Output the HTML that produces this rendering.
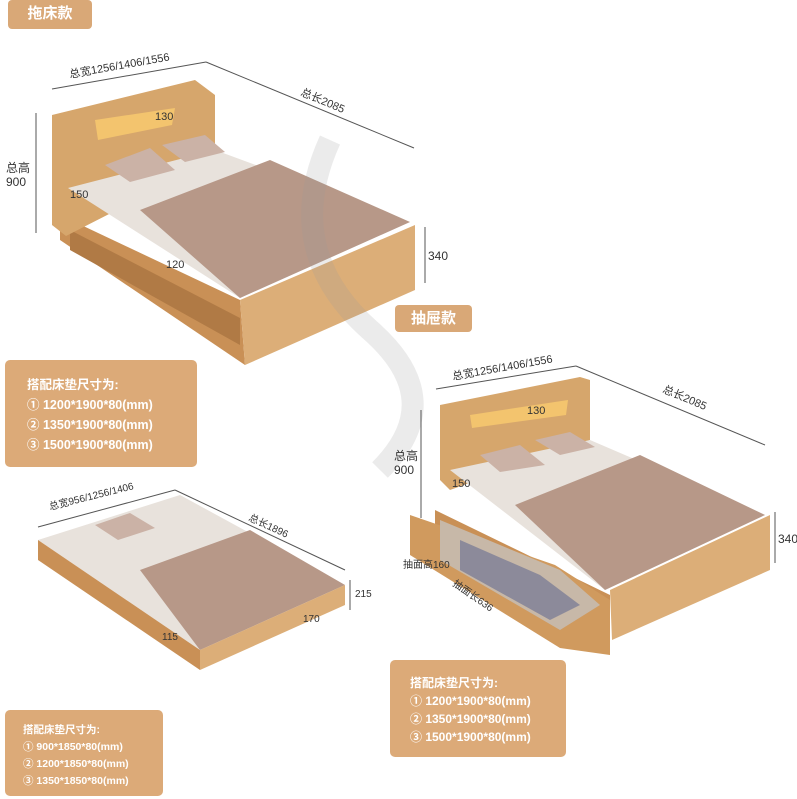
<!DOCTYPE html>
<html><head><meta charset="utf-8"><style>
body{margin:0;width:797px;height:799px;background:#fff;overflow:hidden;position:relative;font-family:"Liberation Sans","Noto Sans CJK SC",sans-serif}
.tag{position:absolute;background:#d9a877;color:#fff;font-weight:bold;border-radius:4px;text-align:center}
.box{position:absolute;background:#dcaa78;color:#fff;border-radius:5px;font-weight:bold}
svg{position:absolute;left:0;top:0}
</style></head><body>
<svg width="797" height="799" font-family="Liberation Sans,Noto Sans CJK SC,sans-serif" font-size="12" fill="#333">
<!-- Bed 1 -->
<polygon points="60,215 240,300 245,365 60,240" fill="#c99056"/>
<polygon points="240,300 415,225 415,290 245,365" fill="#dcae78"/>
<polygon points="70,230 240,318 240,345 70,250" fill="#b07a45"/>
<polygon points="52,115 195,80 215,95 215,160 66,236 52,225" fill="#d6a66c"/>
<polygon points="95,120 175,108 172,125 98,140" fill="#f3c46e"/>
<polygon points="68,188 215,150 410,222 240,298" fill="#e8e2dc"/>
<polygon points="140,210 270,160 410,222 240,298" fill="#b79888"/>
<polygon points="105,165 150,148 175,170 130,182" fill="#cbb2a6"/>
<polygon points="162,145 205,135 225,152 185,162" fill="#cbb2a6"/>
<!-- Bed 2 -->
<polygon points="435,510 610,595 610,640 435,550" fill="#c99056"/>
<polygon points="410,515 555,565 610,600 610,655 560,648 410,555" fill="#d09a5e"/>
<polygon points="440,520 560,570 600,605 560,630 440,560" fill="#c7b8a8"/>
<polygon points="460,540 540,575 580,605 550,620 460,570" fill="#8c8a9a"/>
<polygon points="610,590 770,515 770,570 612,640" fill="#dcae78"/>
<polygon points="440,405 580,377 590,380 590,440 450,490 440,480" fill="#d6a66c"/>
<polygon points="470,415 568,400 566,415 472,428" fill="#f3c46e"/>
<polygon points="450,470 590,440 765,515 605,590" fill="#e8e2dc"/>
<polygon points="515,505 640,455 765,515 605,590" fill="#b79888"/>
<polygon points="480,455 520,445 545,465 500,472" fill="#cbb2a6"/>
<polygon points="535,440 570,432 595,447 560,455" fill="#cbb2a6"/>
<!-- Bed 3 trundle -->
<polygon points="38,540 180,495 345,585 200,650" fill="#e8e2dc"/>
<polygon points="140,570 250,530 345,585 200,650" fill="#b79888"/>
<polygon points="38,540 200,650 200,670 38,560" fill="#c99056"/>
<polygon points="200,650 345,585 345,605 200,670" fill="#dcae78"/>
<polygon points="95,525 130,513 155,528 118,540" fill="#cbb2a6"/>
<!-- watermark -->
<path d="M330,140 Q280,250 370,330 Q450,400 380,470" stroke="#999" stroke-opacity=".2" stroke-width="22" fill="none"/>
<!-- dim lines -->
<g stroke="#555" stroke-width="1" fill="none">
<line x1="52" y1="89" x2="206" y2="62"/><line x1="206" y1="62" x2="414" y2="148"/>
<line x1="36" y1="113" x2="36" y2="233"/><line x1="425" y1="227" x2="425" y2="283"/>
<line x1="436" y1="389" x2="576" y2="366"/><line x1="576" y1="366" x2="765" y2="445"/>
<line x1="421" y1="410" x2="421" y2="518"/><line x1="775" y1="512" x2="775" y2="563"/>
<line x1="38" y1="527" x2="175" y2="490"/><line x1="175" y1="490" x2="345" y2="570"/>
<line x1="350" y1="580" x2="350" y2="610"/>
</g>
<text x="70" y="78" font-size="11" transform="rotate(-10 70 78)">总宽1256/1406/1556</text>
<text x="300" y="95" font-size="11" transform="rotate(23 300 95)">总长2085</text>
<text x="6" y="172">总高</text><text x="6" y="186">900</text>
<text x="428" y="260">340</text>
<text x="155" y="120" font-size="11">130</text>
<text x="70" y="198" font-size="11">150</text>
<text x="166" y="268" font-size="11">120</text>
<text x="453" y="380" font-size="11" transform="rotate(-10 453 380)">总宽1256/1406/1556</text>
<text x="662" y="392" font-size="11" transform="rotate(23 662 392)">总长2085</text>
<text x="394" y="460">总高</text><text x="394" y="474">900</text>
<text x="778" y="543">340</text>
<text x="527" y="414" font-size="11">130</text>
<text x="452" y="487" font-size="11">150</text>
<text x="403" y="568" font-size="10">抽面高160</text>
<text x="452" y="585" font-size="10" transform="rotate(35 452 585)">抽面长636</text>
<text x="50" y="510" font-size="10" transform="rotate(-14 50 510)">总宽956/1256/1406</text>
<text x="248" y="520" font-size="10" transform="rotate(25 248 520)">总长1896</text>
<text x="355" y="597" font-size="10">215</text>
<text x="303" y="622" font-size="10">170</text>
<text x="162" y="640" font-size="10">115</text>
</svg>
<div class="tag" style="left:8px;top:0;width:84px;height:29px;line-height:28px;font-size:15px">拖床款</div>
<div class="tag" style="left:395px;top:305px;width:77px;height:27px;line-height:27px;font-size:15px">抽屉款</div>
<div class="box" style="left:5px;top:360px;width:192px;height:107px;font-size:12.5px;line-height:20px;padding:15px 0 0 22px;box-sizing:border-box">搭配床垫尺寸为:<br>① 1200*1900*80(mm)<br>② 1350*1900*80(mm)<br>③ 1500*1900*80(mm)</div>
<div class="box" style="left:390px;top:660px;width:176px;height:97px;font-size:12px;line-height:18px;padding:14px 0 0 20px;box-sizing:border-box">搭配床垫尺寸为:<br>① 1200*1900*80(mm)<br>② 1350*1900*80(mm)<br>③ 1500*1900*80(mm)</div>
<div class="box" style="left:5px;top:710px;width:158px;height:86px;font-size:10.5px;line-height:17px;padding:12px 0 0 18px;box-sizing:border-box">搭配床垫尺寸为:<br>① 900*1850*80(mm)<br>② 1200*1850*80(mm)<br>③ 1350*1850*80(mm)</div>
</body></html>
